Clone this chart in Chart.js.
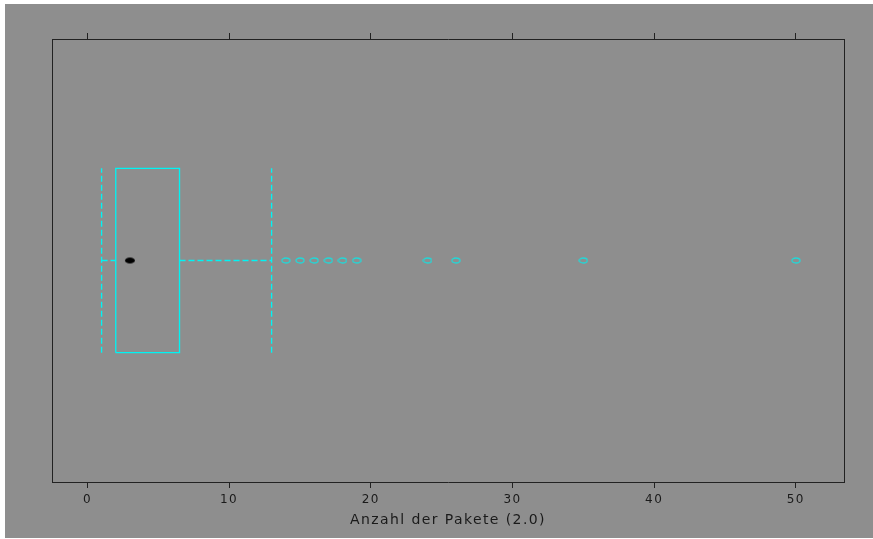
<!DOCTYPE html>
<html>
<head>
<meta charset="utf-8">
<script src="https://cdn.jsdelivr.net/npm/chart.js@4"></script>
<style>
  body { margin: 0; background: #ffffff; }
  #box { position: absolute; left: 5px; top: 4px; background: #8e8e8e; }
</style>
</head>
<body>
<canvas id="box" width="868" height="534"></canvas>
<script>
// box plot stats
const whiskerLow = 1;
const q1 = 2;
const median = 3;
const q3 = 6.5;
const whiskerHigh = 13;
const outliers = [14, 15, 16, 17, 18, 19, 24, 26, 35, 50];
const xTicks = [0, 10, 20, 30, 40, 50];
const xTitle = 'Anzahl der Pakete (2.0)';

const MID = 0.5;
const HALF = 0.208;
const CYAN = '#00f4f4';

function ellipse(w, h, fill, stroke) {
    const c = document.createElement('canvas');
    c.width = w; c.height = h;
    const g = c.getContext('2d');
    g.beginPath();
    g.ellipse(w / 2, h / 2, w / 2 - 1, h / 2 - 1, 0, 0, 2 * Math.PI);
    if (fill) { g.fillStyle = fill; g.fill(); }
    if (stroke) { g.strokeStyle = stroke; g.lineWidth = 1.3; g.stroke(); }
    return c;
}
const dotStyle = ellipse(12, 8, '#000000', null);
const ringStyle = ellipse(10, 7, null, '#22d8d8');

const dash = [6, 3];
const lineBase = { showLine: true, pointRadius: 0, borderWidth: 1.3, borderColor: CYAN, fill: false, tension: 0 };

const datasets = [
    { data: outliers.map(v => ({ x: v, y: MID })), pointStyle: ringStyle, pointRadius: 5, showLine: false },
    Object.assign({}, lineBase, { data: [{ x: whiskerLow, y: MID }, { x: q1, y: MID }], borderDash: dash }),
    Object.assign({}, lineBase, { data: [{ x: q3, y: MID }, { x: whiskerHigh, y: MID }], borderDash: dash }),
    Object.assign({}, lineBase, { data: [{ x: whiskerLow, y: MID - HALF }, { x: whiskerLow, y: MID + HALF }], borderDash: dash }),
    Object.assign({}, lineBase, { data: [{ x: whiskerHigh, y: MID - HALF }, { x: whiskerHigh, y: MID + HALF }], borderDash: dash }),
    Object.assign({}, lineBase, { data: [
        { x: q1, y: MID - HALF }, { x: q3, y: MID - HALF }, { x: q3, y: MID + HALF },
        { x: q1, y: MID + HALF }, { x: q1, y: MID - HALF }] }),
    { data: [{ x: median, y: MID }], pointStyle: dotStyle, pointRadius: 6, showLine: false }
];

const spacing = {
    id: 'spacing',
    beforeLayout: (chart) => { chart.ctx.letterSpacing = '1.4px'; },
    beforeDraw: (chart) => { chart.ctx.letterSpacing = '1.4px'; }
};

Chart.defaults.font.family = 'DejaVu Sans';
Chart.defaults.color = '#1a1a1a';

const frame = '#222222';
const xAxis = (pos, h, labels) => ({
    type: 'linear', position: pos, min: -2.5, max: 53.4,
    afterBuildTicks: (s) => { s.ticks = xTicks.map(v => ({ value: v })); },
    afterFit: (s) => { s.height = h; },
    ticks: { display: labels, padding: 5, font: { size: 12 }, includeBounds: false },
    grid: { drawOnChartArea: false, tickLength: 6, color: frame, lineWidth: 1 },
    border: { display: true, color: frame, width: 1 },
    title: { display: labels, text: xTitle, font: { size: 14 }, padding: { top: 2, bottom: 9 } }
});
const yAxis = (pos) => ({
    type: 'linear', position: pos, min: 0, max: 1,
    afterFit: (s) => { s.width = 0; },
    ticks: { display: false },
    grid: { drawOnChartArea: false, drawTicks: false },
    border: { display: true, color: frame, width: 1 }
});

new Chart(document.getElementById('box'), {
    type: 'scatter',
    data: { datasets: datasets },
    plugins: [spacing],
    options: {
        responsive: false,
        animation: false,
        layout: { padding: { left: 47, right: 29, top: 0, bottom: 0 } },
        plugins: { legend: { display: false }, tooltip: { enabled: false } },
        scales: {
            x: xAxis('bottom', 56, true),
            x2: xAxis('top', 35, false),
            y: yAxis('left'),
            y2: yAxis('right')
        }
    }
});
</script>
</body>
</html>
